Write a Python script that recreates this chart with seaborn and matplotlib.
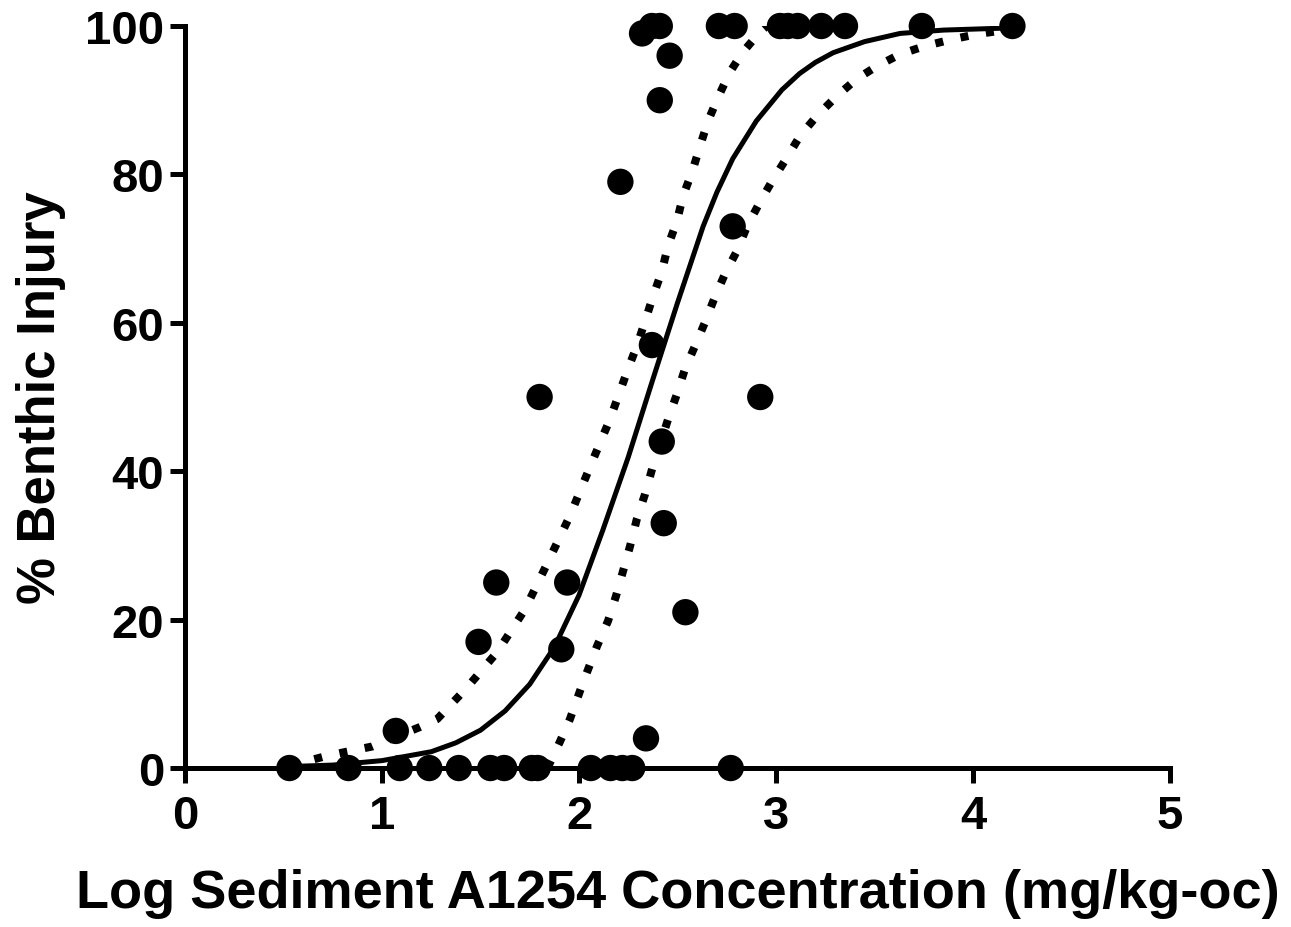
import numpy as np
import pandas as pd
import seaborn as sns
from matplotlib import pyplot as plt

# observed data points (log conc, % injury)
log_conc = [0.53, 0.83, 1.09, 1.24, 1.39, 1.55, 1.62, 1.76, 1.79, 2.06, 2.16, 2.22, 2.27, 2.77,
            1.07, 1.49, 1.58, 1.80, 1.91, 1.94, 2.21, 2.34, 2.37, 2.42, 2.43, 2.54, 2.78, 2.92,
            2.32, 2.37, 2.41, 2.41, 2.46, 2.71, 2.79, 3.02, 3.06, 3.11, 3.23, 3.35, 3.74, 4.20]
injury = [0, 0, 0, 0, 0, 0, 0, 0, 0, 0, 0, 0, 0, 0,
          5, 17, 25, 50, 16, 25, 79, 4, 57, 44, 33, 21, 73, 50,
          99, 100, 100, 90, 96, 100, 100, 100, 100, 100, 100, 100, 100, 100]

# fitted curve
fit_x = [0.53, 0.75, 1.0, 1.25, 1.375, 1.5, 1.625, 1.75, 1.875, 2.0, 2.12, 2.25, 2.375, 2.5,
         2.63, 2.70, 2.78, 2.90, 3.03, 3.12, 3.20, 3.29, 3.45, 3.63, 3.85, 4.14, 4.20]
fit_y = [0.2, 0.4, 1.0, 2.2, 3.4, 5.1, 7.7, 11.3, 16.3, 23.3, 32.0, 41.9, 52.4, 62.7,
         73.0, 77.6, 82.1, 87.2, 91.4, 93.6, 95.1, 96.4, 97.9, 99.0, 99.45, 99.7, 99.8]

# upper 95% band
upper_x = [0.53, 0.70, 0.82, 0.95, 1.19, 1.28, 1.43, 1.584, 1.726, 1.843, 1.954, 2.056, 2.157,
           2.249, 2.294, 2.335, 2.376, 2.421, 2.452, 2.497, 2.528, 2.576, 2.614, 2.655, 2.706,
           2.766, 2.832, 2.919, 2.954]
upper_y = [0.3, 1.5, 2.2, 2.9, 5.5, 6.6, 10.8, 15.6, 21.4, 27.8, 34.0, 40.6, 47.0,
           53.8, 56.9, 60.2, 63.6, 67.0, 70.4, 73.7, 77.1, 80.5, 83.8, 87.2, 90.4,
           93.8, 96.5, 99.2, 100]

# lower 95% band
lower_x = [1.84, 1.904, 1.954, 2.02, 2.091, 2.147, 2.188, 2.223, 2.259, 2.294, 2.335, 2.371,
           2.452, 2.497, 2.538, 2.589, 2.64, 2.69, 2.741, 2.802, 2.853, 2.919, 2.98, 3.056,
           3.122, 3.208, 3.31, 3.411, 3.513, 3.63, 3.756, 3.893, 4.02, 4.198]
lower_y = [0, 3.6, 6.6, 11.5, 16.4, 19.8, 23.2, 26.5, 29.9, 33.6, 36.9, 40.3,
           47.0, 50.4, 53.8, 56.9, 60.1, 63.5, 66.6, 69.7, 73.0, 76.3, 79.1, 82.3,
           85.2, 87.9, 90.6, 92.9, 94.6, 96.2, 97.3, 98.2, 98.9, 99.6]

df = pd.DataFrame({'x': log_conc, 'y': injury})

sns.set_style('ticks')
plt.rcParams['font.family'] = ['Liberation Sans', 'DejaVu Sans']
plt.rcParams['font.weight'] = 'bold'
plt.rcParams['axes.edgecolor'] = 'black'
plt.rcParams['axes.labelcolor'] = 'black'
plt.rcParams['xtick.color'] = 'black'
plt.rcParams['ytick.color'] = 'black'
plt.rcParams['text.color'] = 'black'

fig = plt.figure(figsize=(12.91, 9.28), dpi=100)
ax = fig.add_axes([0.1433, 0.1713, 0.9063 - 0.1433, 0.9709 - 0.1713])

dot = (0, (1, 2.2))
sns.lineplot(x=fit_x, y=fit_y, ax=ax, color='black', lw=3.6, sort=False, estimator=None)
sns.lineplot(x=upper_x, y=upper_y, ax=ax, color='black', lw=5.8, linestyle=dot, sort=False, estimator=None)
sns.lineplot(x=lower_x, y=lower_y, ax=ax, color='black', lw=5.8, linestyle=dot, sort=False, estimator=None)
sns.scatterplot(data=df, x='x', y='y', ax=ax, color='black', s=360, edgecolor='none',
                clip_on=False, zorder=5)

ax.set_xlim(0, 5)
ax.set_ylim(0, 100)
ax.set_xticks([0, 1, 2, 3, 4, 5])
ax.set_yticks([0, 20, 40, 60, 80, 100])
sns.despine(ax=ax)
for s in ['left', 'bottom']:
    ax.spines[s].set_linewidth(3.6)
    ax.spines[s].set_color('black')
ax.tick_params(width=3.6, length=11, labelsize=34, colors='black')
ax.tick_params(axis='x', pad=8)
ax.tick_params(axis='y', pad=4)
for lab in ax.get_xticklabels() + ax.get_yticklabels():
    lab.set_fontweight('bold')

ax.set_xlabel('Log Sediment A1254 Concentration (mg/kg-oc)', fontsize=39, fontweight='bold',
              labelpad=21, color='black')
ax.set_ylabel('% Benthic Injury', fontsize=38, fontweight='bold', labelpad=14, color='black')

plt.savefig('out.png', dpi=100)
